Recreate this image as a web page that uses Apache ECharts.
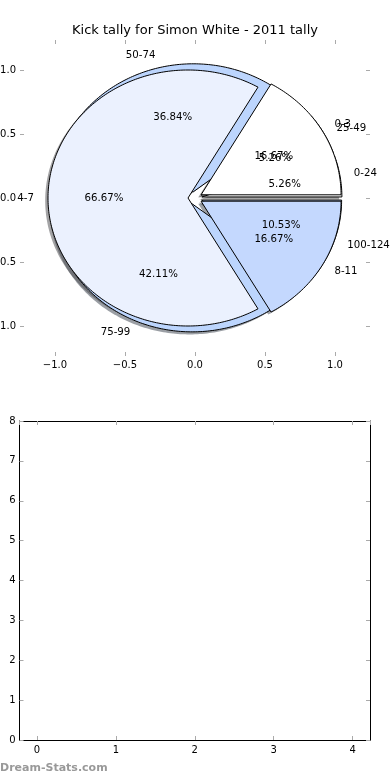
<!DOCTYPE html>
<html><head><meta charset="utf-8">
<script src="https://cdn.jsdelivr.net/npm/echarts@6/dist/echarts.min.js"></script>
<style>html,body{margin:0;padding:0;background:#fff}#c{width:390px;height:780px}</style>
</head><body><div id="c"></div>
<script>
const chartTitle = 'Kick tally for Simon White - 2011 tally';
const watermark = 'Dream-Stats.com';
// distance bands pie (drawn underneath)
const distCategories = ['0-24', '25-49', '50-74', '75-99', '100-124'];
const distValues = [1, 1, 7, 8, 2];
const distColors = ['#ffffff', '#ebf1fe', '#bcd5fd', '#bcd5fd', '#c4d8fe'];
// kick count pie (drawn on top)
const countCategories = ['0-3', '4-7', '8-11'];
const countValues = [1, 4, 1];
const countColors = ['#ffffff', '#ebf1fe', '#c4d8fe'];
// tick labels
const pieTicks = [-1, -0.5, 0, 0.5, 1];
const lowerXTicks = [0, 1, 2, 3, 4];
const lowerYTicks = [0, 1, 2, 3, 4, 5, 6, 7, 8];

const FONT = 'DejaVu Sans';
const R = 1, EXPLODE = 0.05, PCTDIST = 0.6, LABELDIST = 1.1, SH = -0.02;

function slices(values) {
  const total = values.reduce((a, b) => a + b, 0);
  let acc = 0;
  return values.map(v => {
    const a1 = acc / total * 360; acc += v; const a2 = acc / total * 360;
    const mid = (a1 + a2) / 2 * Math.PI / 180;
    return { a1, a2, mid, pct: v / total * 100, ox: EXPLODE * Math.cos(mid), oy: EXPLODE * Math.sin(mid) };
  });
}
const distInfo = slices(distValues);
const countInfo = slices(countValues);

function shadowColor(hex) {
  const n = parseInt(hex.slice(1), 16);
  const r = Math.round(((n >> 16) & 255) * 0.3), g = Math.round(((n >> 8) & 255) * 0.3), b = Math.round((n & 255) * 0.3);
  return 'rgba(' + r + ',' + g + ',' + b + ',0.5)';
}

function wedgeRender(info, colors, isShadow) {
  return function (params, api) {
    const i = params.dataIndex, s = info[i];
    const dx = s.ox + (isShadow ? SH : 0), dy = s.oy + (isShadow ? SH : 0);
    const pts = [api.coord([dx, dy])];
    const n = Math.max(4, Math.ceil(s.a2 - s.a1));
    for (let k = 0; k <= n; k++) {
      const t = (s.a1 + (s.a2 - s.a1) * k / n) * Math.PI / 180;
      pts.push(api.coord([dx + R * Math.cos(t), dy + R * Math.sin(t)]));
    }
    return {
      type: 'polygon', shape: { points: pts },
      style: isShadow ? { fill: shadowColor(colors[i]), stroke: null, lineWidth: 0 }
                      : { fill: colors[i], stroke: '#000', lineWidth: 1, lineJoin: 'miter' }
    };
  };
}

function labelRender(info, cats) {
  return function (params, api) {
    const i = params.dataIndex, s = info[i];
    const c = Math.cos(s.mid), sn = Math.sin(s.mid);
    const lx = s.ox + LABELDIST * R * c, ly = s.oy + LABELDIST * R * sn;
    const px = s.ox + PCTDIST * R * c, py = s.oy + PCTDIST * R * sn;
    const lp = api.coord([lx, ly]), pp = api.coord([px, py]);
    return {
      type: 'group', children: [
        { type: 'text', x: lp[0], y: lp[1], style: { text: cats[i], fontFamily: FONT, fontSize: 10.2, fill: '#000', align: lx > 0 ? 'left' : 'right', verticalAlign: 'middle' } },
        { type: 'text', x: pp[0], y: pp[1], style: { text: s.pct.toFixed(2) + '%', fontFamily: FONT, fontSize: 10.2, fill: '#000', align: 'center', verticalAlign: 'middle' } }
      ]
    };
  };
}

const tickStyle = { show: true, inside: true, length: 4, lineStyle: { color: '#aaaaaa', width: 1 } };
const fmtPie = v => pieTicks.indexOf(v) >= 0 ? (v < 0 ? '\u2212' : '') + Math.abs(v).toFixed(1) : '';

function pieAxis(pos, showLabel, isX) {
  return {
    type: 'value', gridIndex: 0, position: pos, offset: isX ? 30 : 35,
    min: -1, max: 1, interval: 0.5,
    axisLine: { show: true, onZero: false, lineStyle: { color: 'rgba(0,0,0,0)', width: 0 } },
    axisTick: tickStyle, splitLine: { show: false },
    axisLabel: { show: showLabel, formatter: fmtPie, color: '#000', fontFamily: FONT, fontSize: 10, margin: 4 }
  };
}
function lowerX(pos, showLabel) {
  return {
    type: 'value', gridIndex: 1, position: pos, min: -0.22, max: 4.22, splitNumber: 5,
    axisLine: { show: true, onZero: false, lineStyle: { color: '#000', width: 1 } },
    axisTick: tickStyle, splitLine: { show: false },
    axisLabel: { show: showLabel, showMinLabel: false, showMaxLabel: false, formatter: v => lowerXTicks.indexOf(v) >= 0 ? String(v) : '', color: '#000', fontFamily: FONT, fontSize: 10, margin: 5 }
  };
}
function lowerY(pos, showLabel) {
  return {
    type: 'value', gridIndex: 1, position: pos, min: 0, max: 8, interval: 1,
    axisLine: { show: true, onZero: false, lineStyle: { color: '#000', width: 1 } },
    axisTick: tickStyle, splitLine: { show: false },
    axisLabel: { show: showLabel, formatter: v => lowerYTicks.indexOf(v) >= 0 ? String(v) : '', color: '#000', fontFamily: FONT, fontSize: 10, margin: 4 }
  };
}

const chart = echarts.init(document.getElementById('c'), null, { renderer: 'canvas' });
const pieSeries = (id, info, colors, kind, z) => ({
  type: 'custom', id: id, xAxisIndex: 0, yAxisIndex: 0, clip: false, silent: true, z: z,
  renderItem: kind === 'label' ? labelRender(info, colors) : wedgeRender(info, colors, kind === 'shadow'),
  data: info.map((s, i) => [0, 0, i])
});

chart.setOption({
  animation: false,
  textStyle: { fontFamily: FONT },
  title: { text: chartTitle, left: 'center', top: 19, textStyle: { fontFamily: FONT, fontSize: 13, fontWeight: 'normal', color: '#000' } },
  grid: [
    { left: 55, right: 55, top: 70, bottom: 454, containLabel: false, outerBoundsMode: 'none' },
    { left: 19.5, right: 20, top: 421, bottom: 40, containLabel: false, outerBoundsMode: 'none' }
  ],
  xAxis: [pieAxis('bottom', true, true), pieAxis('top', false, true), lowerX('bottom', true), lowerX('top', false)],
  yAxis: [pieAxis('left', true, false), pieAxis('right', false, false), lowerY('left', true), lowerY('right', false)],
  graphic: [{ type: 'text', left: 0, top: 763, style: { text: watermark, fontFamily: FONT, fontSize: 11, fontWeight: 'bold', fill: '#999999' } }],
  series: [
    pieSeries('distShadow', distInfo, distColors, 'shadow', 1),
    pieSeries('countShadow', countInfo, countColors, 'shadow', 2),
    pieSeries('distWedge', distInfo, distColors, 'wedge', 3),
    pieSeries('countWedge', countInfo, countColors, 'wedge', 4),
    pieSeries('distLabel', distInfo, distCategories, 'label', 5),
    pieSeries('countLabel', countInfo, countCategories, 'label', 6)
  ]
});
</script></body></html>
